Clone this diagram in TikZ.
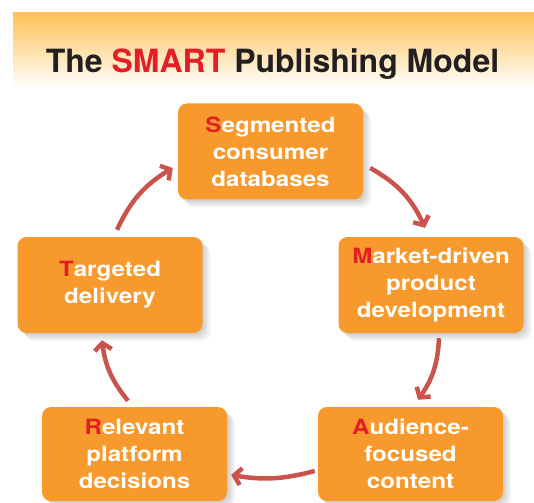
\documentclass[tikz,border=0pt]{standalone}
\usepackage{fontspec}
\setmainfont{TeX Gyre Heros}
\newfontfamily\boxfont{TeX Gyre Heros}[FakeStretch=1.15]
\usetikzlibrary{arrows.meta,shadows}
\definecolor{boxor}{HTML}{F7992C}
\definecolor{arr}{HTML}{C9544D}
\definecolor{smred}{HTML}{E41E26}
\definecolor{hdr}{HTML}{FEC257}
\definecolor{ink}{HTML}{231F20}
\begin{document}
\begin{tikzpicture}[x=1pt,y=-1pt,
  stage/.style={rectangle, rounded corners=9pt, fill=boxor, minimum width=185pt,
    minimum height=96pt, align=center, text=white, inner sep=0pt,
    font=\boxfont\bfseries\fontsize{21}{27}\selectfont,
    general shadow={fill=black, opacity=0.05, shadow xshift=2pt, shadow yshift=-2pt},
    general shadow={fill=black, opacity=0.05, shadow xshift=4pt, shadow yshift=-4pt},
    general shadow={fill=black, opacity=0.05, shadow xshift=6pt, shadow yshift=-6pt},
    general shadow={fill=black, opacity=0.04, shadow xshift=8pt, shadow yshift=-8pt}},
  flow/.style={draw=arr, line width=4.5pt, -{Straight Barb[length=7pt,width=17pt]}},
  titlestyle/.style={anchor=base, text=ink, font=\bfseries\fontsize{32}{38}\selectfont}
]
\useasboundingbox (0,0) rectangle (534,502);
\shade[top color=hdr, bottom color=white] (13,13) rectangle (534,88);
\node[titlestyle] (title) at (272.5,73) {The \textcolor{smred}{SMART} Publishing Model};

\node[stage] (seg) at (270.5,151.5) {\textcolor{smred}{S}egmented\\consumer\\databases};
\node[stage] (mkt) at (431,285) {\textcolor{smred}{M}arket-driven\\product\\development};
\node[stage, minimum height=94pt] (aud) at (410.5,454) {\textcolor{smred}{A}udience-\\focused\\content};
\node[stage, minimum height=94pt] (rel) at (134.5,454) {\textcolor{smred}{R}elevant\\platform\\decisions};
\node[stage] (tgt) at (110,285) {\textcolor{smred}{T}argeted\\delivery};

\draw[flow] ([xshift=7pt,yshift=7pt]tgt.north) to[bend left=17] ([xshift=-5pt,yshift=-16.5pt]seg.west);
\draw[flow] ([xshift=7pt,yshift=-16.5pt]seg.east) to[bend left=18] ([xshift=-6pt,yshift=9pt]mkt.north);
\draw[flow] ([xshift=8pt,yshift=-5pt]mkt.south) to[bend left=16] ([xshift=7.5pt,yshift=7pt]aud.north);
\draw[flow] ([xshift=-3pt,yshift=-17pt]aud.west) to[bend left=12] ([xshift=4pt,yshift=-21pt]rel.east);
\draw[flow] ([xshift=-6.5pt,yshift=6pt]rel.north) to[bend left=16] ([xshift=-8pt,yshift=-7pt]tgt.south);
\end{tikzpicture}
\end{document}
